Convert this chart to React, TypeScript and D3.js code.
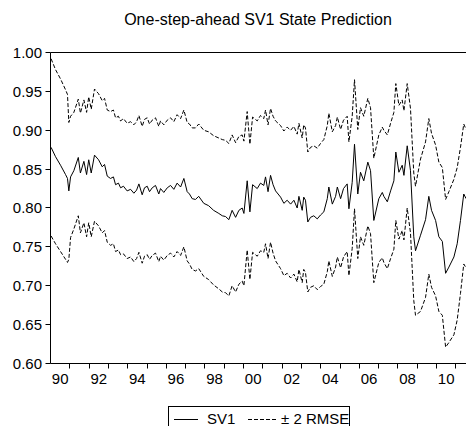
import React from 'react';
import * as d3 from 'd3';

// decimal-year dates of the plotted observations
const dates = [
  1990.03, 1990.26, 1990.52, 1990.78, 1990.88, 1990.95, 1991.04, 1991.21, 1991.44, 1991.55,
  1991.73, 1991.87, 1991.98, 1992.11, 1992.28, 1992.49, 1992.68, 1992.80, 1992.94, 1993.11,
  1993.26, 1993.37, 1993.52, 1993.63, 1993.78, 1993.97, 1994.15, 1994.32, 1994.46, 1994.58,
  1994.75, 1994.87, 1995.01, 1995.13, 1995.27, 1995.44, 1995.61, 1995.70, 1995.87, 1996.05,
  1996.22, 1996.39, 1996.56, 1996.74, 1996.91, 1997.08, 1997.20, 1997.34, 1997.51, 1997.68,
  1997.94, 1998.19, 1998.45, 1998.72, 1998.90, 1999.07, 1999.24, 1999.41, 1999.59, 1999.76,
  1999.93, 2000.02, 2000.19, 2000.33, 2000.47, 2000.71, 2000.88, 2001.05, 2001.14, 2001.27,
  2001.40, 2001.53, 2001.66, 2001.92, 2002.09, 2002.26, 2002.44, 2002.61, 2002.78, 2002.87,
  2003.04, 2003.12, 2003.21, 2003.33, 2003.47, 2003.64, 2003.82, 2003.99, 2004.16, 2004.34,
  2004.42, 2004.60, 2004.77, 2004.86, 2005.03, 2005.18, 2005.37, 2005.46, 2005.63, 2005.75,
  2005.92, 2006.06, 2006.23, 2006.44, 2006.58, 2006.75, 2007.01, 2007.19, 2007.27, 2007.45,
  2007.62, 2007.79, 2007.89, 2008.05, 2008.22, 2008.31, 2008.48, 2008.65, 2008.82, 2008.91,
  2009.17, 2009.43, 2009.60, 2009.74, 2009.95, 2010.12, 2010.30, 2010.47, 2010.64, 2010.90,
  2011.07, 2011.24, 2011.41, 2011.53,
];

// SV1 one-step-ahead state prediction
const sv1 = [
  0.878, 0.866, 0.855, 0.843, 0.838, 0.822, 0.840, 0.848, 0.865, 0.845,
  0.860, 0.843, 0.862, 0.845, 0.868, 0.862, 0.853, 0.856, 0.841, 0.838,
  0.840, 0.830, 0.832, 0.826, 0.828, 0.822, 0.824, 0.819, 0.823, 0.831,
  0.817, 0.826, 0.828, 0.821, 0.826, 0.829, 0.818, 0.825, 0.820, 0.826,
  0.829, 0.824, 0.832, 0.827, 0.838, 0.821, 0.818, 0.812, 0.811, 0.815,
  0.806, 0.803, 0.797, 0.793, 0.790, 0.789, 0.785, 0.797, 0.788, 0.797,
  0.800, 0.793, 0.835, 0.795, 0.830, 0.825, 0.832, 0.829, 0.840, 0.821,
  0.842, 0.830, 0.822, 0.814, 0.806, 0.810, 0.805, 0.810, 0.800, 0.815,
  0.797, 0.814, 0.810, 0.782, 0.788, 0.790, 0.786, 0.791, 0.795, 0.812,
  0.827, 0.805, 0.815, 0.827, 0.812, 0.825, 0.831, 0.799, 0.833, 0.882,
  0.818, 0.846, 0.835, 0.859, 0.848, 0.784, 0.812, 0.820, 0.815, 0.808,
  0.822, 0.835, 0.872, 0.846, 0.855, 0.842, 0.880, 0.848, 0.763, 0.745,
  0.765, 0.785, 0.815, 0.797, 0.784, 0.763, 0.757, 0.716, 0.724, 0.737,
  0.754, 0.784, 0.818, 0.812,
];

// 2 x RMSE (half-width of the band)
const twoRmse = [
  0.114, 0.112, 0.111, 0.109, 0.108, 0.088, 0.078, 0.075, 0.075, 0.077,
  0.079, 0.080, 0.081, 0.082, 0.085, 0.085, 0.085, 0.085, 0.085, 0.086,
  0.086, 0.086, 0.086, 0.086, 0.087, 0.087, 0.087, 0.088, 0.088, 0.088,
  0.088, 0.088, 0.088, 0.087, 0.087, 0.087, 0.087, 0.087, 0.087, 0.087,
  0.087, 0.087, 0.088, 0.088, 0.088, 0.089, 0.090, 0.091, 0.092, 0.093,
  0.094, 0.095, 0.096, 0.097, 0.098, 0.098, 0.098, 0.097, 0.096, 0.095,
  0.094, 0.093, 0.089, 0.087, 0.087, 0.087, 0.087, 0.086, 0.086, 0.086,
  0.086, 0.088, 0.090, 0.092, 0.093, 0.094, 0.095, 0.095, 0.095, 0.094,
  0.093, 0.093, 0.093, 0.090, 0.090, 0.090, 0.091, 0.092, 0.093, 0.094,
  0.095, 0.093, 0.091, 0.090, 0.089, 0.088, 0.087, 0.086, 0.085, 0.083,
  0.083, 0.083, 0.083, 0.082, 0.081, 0.080, 0.082, 0.084, 0.085, 0.086,
  0.087, 0.088, 0.088, 0.086, 0.084, 0.083, 0.080, 0.080, 0.082, 0.083,
  0.098, 0.100, 0.100, 0.099, 0.097, 0.096, 0.095, 0.095, 0.097, 0.100,
  0.098, 0.094, 0.090, 0.089,
];

const yTicks = [0.6, 0.65, 0.7, 0.75, 0.8, 0.85, 0.9, 0.95, 1.0];
const tickYears = d3.range(1991, 2012);
const labelYears = [1990, 1992, 1994, 1996, 1998, 2000, 2002, 2004, 2006, 2008, 2010];
const title = 'One-step-ahead SV1 State Prediction';
const legendLabels = ['SV1', '\u00b1 2 RMSE'];

const FONT = 'Liberation Sans, Arial, Helvetica, sans-serif';

export default function App() {
  const W = 466;
  const H = 426;
  const left = 50.5;
  const top = 52.5;
  const bottom = 363.5;
  const right = 466;
  const x = d3.scaleLinear().domain([1990, 2011.5]).range([left, 465.5]);
  const y = d3.scaleLinear().domain([0.6, 1.0]).range([bottom, top]);

  const rows = dates.map((t, i) => ({ t, s: sv1[i], w: twoRmse[i] }));
  const lineS = d3.line<any>().x((d) => x(d.t)).y((d) => y(d.s));
  const lineU = d3.line<any>().x((d) => x(d.t)).y((d) => y(d.s + d.w));
  const lineL = d3.line<any>().x((d) => x(d.t)).y((d) => y(d.s - d.w));

  return (
    <svg
      width={W}
      height={H}
      style={{ position: 'absolute', left: 0, top: 0, background: '#fff' }}
      fontFamily={FONT}
    >
      <rect x={0} y={0} width={W} height={H} fill="#fff" />
      <text x={258} y={25} textAnchor="middle" fontSize={16} fill="#000">
        {title}
      </text>

      {/* frame */}
      <line x1={left} x2={right} y1={top} y2={top} stroke="#000" strokeWidth={1} />
      <line x1={left} x2={left} y1={top} y2={bottom} stroke="#000" strokeWidth={1} />
      <line x1={left} x2={right} y1={bottom} y2={bottom} stroke="#000" strokeWidth={1} />

      {/* y axis */}
      {yTicks.map((v) => {
        const yy = Math.round(y(v) - 0.5) + 0.5;
        return (
          <g key={v}>
            <line x1={left - 5} x2={left} y1={yy} y2={yy} stroke="#000" />
            <text x={42} y={yy} dy="0.36em" textAnchor="end" fontSize={15} fill="#000">
              {v.toFixed(2)}
            </text>
          </g>
        );
      })}

      {/* x axis */}
      {tickYears.map((yr) => {
        const xx = Math.round(x(yr) - 0.5) + 0.5;
        return <line key={yr} x1={xx} x2={xx} y1={bottom} y2={bottom + 5} stroke="#000" />;
      })}
      {labelYears.map((yr) => (
        <text key={yr} x={x(yr + 0.5)} y={384} textAnchor="middle" fontSize={15} fill="#000">
          {String(yr % 100).padStart(2, '0')}
        </text>
      ))}

      {/* series */}
      <path d={lineU(rows) || ''} fill="none" stroke="#000" strokeWidth={1} strokeDasharray="4 2" />
      <path d={lineL(rows) || ''} fill="none" stroke="#000" strokeWidth={1} strokeDasharray="4 2" />
      <path d={lineS(rows) || ''} fill="none" stroke="#000" strokeWidth={1} />

      {/* legend */}
      <rect x={168.5} y={406.5} width={181} height={30} fill="#fff" stroke="#000" />
      <line x1={174} x2={198} y1={419.5} y2={419.5} stroke="#000" />
      <text x={207} y={424} fontSize={15} fill="#000">{legendLabels[0]}</text>
      <line x1={248} x2={278} y1={419.5} y2={419.5} stroke="#000" strokeDasharray="4 2" />
      <text x={281} y={424} fontSize={15} fill="#000">{legendLabels[1]}</text>
    </svg>
  );
}
